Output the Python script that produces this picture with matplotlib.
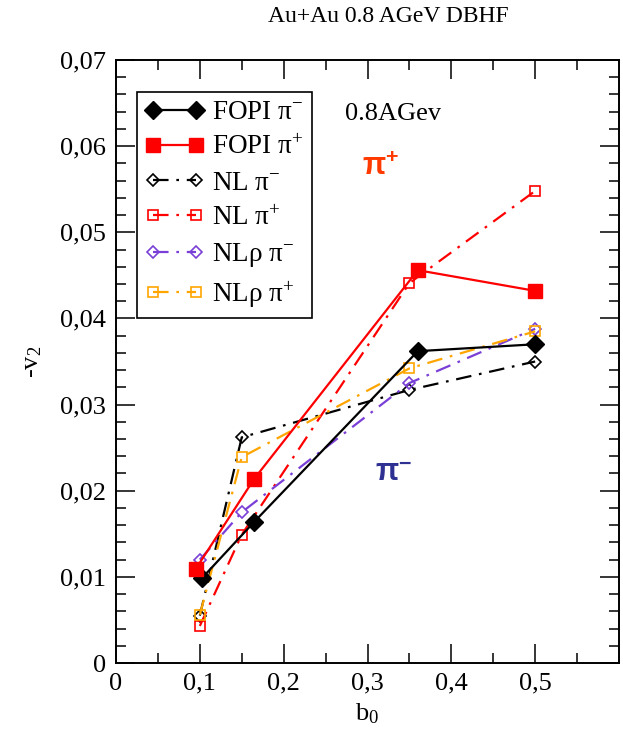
import matplotlib

matplotlib.use("Agg")
import matplotlib.pyplot as plt
import numpy as np
from matplotlib.ticker import FixedLocator, FuncFormatter, MultipleLocator

plt.rcParams["font.family"] = ["Liberation Serif", "DejaVu Serif"]
plt.rcParams["mathtext.fontset"] = "custom"
plt.rcParams["mathtext.rm"] = "Liberation Serif"
plt.rcParams["mathtext.it"] = "Liberation Serif:italic"
plt.rcParams["mathtext.bf"] = "Liberation Sans:bold"

# FOPI data (impact parameter b0, -v2)
fopi_pim_b = [0.103, 0.165, 0.36, 0.50]
fopi_pim_v = [0.0099, 0.0164, 0.0362, 0.0370]
fopi_pip_b = [0.095, 0.165, 0.36, 0.50]
fopi_pip_v = [0.0109, 0.0214, 0.0456, 0.0432]

# transport results, NL and NLrho
model_b = [0.10, 0.15, 0.35, 0.50]
nl_pim = [0.0055, 0.0262, 0.0317, 0.0350]
nl_pip = [0.0043, 0.0149, 0.0441, 0.0548]
nlr_pim = [0.0120, 0.0175, 0.0325, 0.0388]
nlr_pip = [0.0056, 0.0239, 0.0342, 0.0385]

RED = "#ff0000"
PURPLE = "#7a3fd6"
ORANGE = "#ffa500"
DASHDOT = (7, 3.5, 1.2, 3.5)

fig = plt.figure(figsize=(6.23, 7.41), dpi=100)
fig.subplots_adjust(left=116 / 623, right=619 / 623, top=1 - 60 / 741, bottom=1 - 663 / 741)
ax = fig.add_subplot(111)

ax.plot(fopi_pim_b, fopi_pim_v, color="black", lw=1.6, marker="D", ms=9.5,
        mfc="black", mec="black", label=r"FOPI π$^{-}$", zorder=5)
ax.plot(fopi_pip_b, fopi_pip_v, color=RED, lw=1.6, marker="s", ms=10,
        mfc=RED, mec=RED, label=r"FOPI π$^{+}$", zorder=5)

models = [
    (nl_pim, "black", "D", r"NL π$^{-}$"),
    (nl_pip, RED, "s", r"NL π$^{+}$"),
    (nlr_pim, PURPLE, "D", r"NLρ π$^{-}$"),
    (nlr_pip, ORANGE, "s", r"NLρ π$^{+}$"),
]
for vals, col, mk, lab in models:
    ax.plot(model_b, vals, color=col, lw=1.6, dashes=DASHDOT, marker=mk,
            ms=7 if mk == "s" else 6.5, mfc="none", mec=col, mew=1.2, label=lab)

ax.set_xlim(0, 0.6)
ax.set_ylim(0, 0.07)
ax.xaxis.set_major_locator(FixedLocator(np.arange(0, 0.51, 0.1)))
ax.xaxis.set_minor_locator(FixedLocator(np.arange(0.05, 0.56, 0.1)))
ax.yaxis.set_major_locator(MultipleLocator(0.01))
ax.yaxis.set_minor_locator(MultipleLocator(0.002))

ax.xaxis.set_major_formatter(FuncFormatter(lambda v, p: "0" if abs(v) < 1e-9 else f"{v:.1f}".replace(".", ",")))
ax.yaxis.set_major_formatter(FuncFormatter(lambda v, p: "0" if abs(v) < 1e-9 else f"{v:.2f}".replace(".", ",")))

ax.tick_params(which="both", direction="in", top=True, right=True, width=1.1, labelsize=19)
ax.tick_params(which="major", length=14, pad=7)
ax.tick_params(which="minor", length=7)
for sp in ax.spines.values():
    sp.set_linewidth(1.4)

ax.set_xlabel("b$_0$", fontsize=19, labelpad=5)
ax.set_ylabel("-v$_2$", fontsize=19, labelpad=12)

leg = ax.legend(loc="upper left", bbox_to_anchor=(0.041, 0.947), borderaxespad=0,
                fontsize=19.5, numpoints=2, handlelength=2.2, handletextpad=0.3,
                labelspacing=0.38, borderpad=0.3, fancybox=False, framealpha=1,
                edgecolor="black")
leg.get_frame().set_linewidth(1.2)

ax.text(0.455, 0.9, "0.8AGev", transform=ax.transAxes, fontsize=19)
ax.text(0.49, 0.81, r"π$^{\mathbf{+}}$", transform=ax.transAxes, fontsize=22,
        color="#ff3a00", fontweight="bold", family=["Liberation Sans"])
ax.text(0.515, 0.302, r"π$^{\mathbf{-}}$", transform=ax.transAxes, fontsize=22,
        color="#2e3192", fontweight="bold", family=["Liberation Sans"])

fig.text(388 / 623, 1 - 16 / 741, "Au+Au 0.8 AGeV DBHF", ha="center", va="center", fontsize=17)

fig.savefig("out.png", dpi=100)
